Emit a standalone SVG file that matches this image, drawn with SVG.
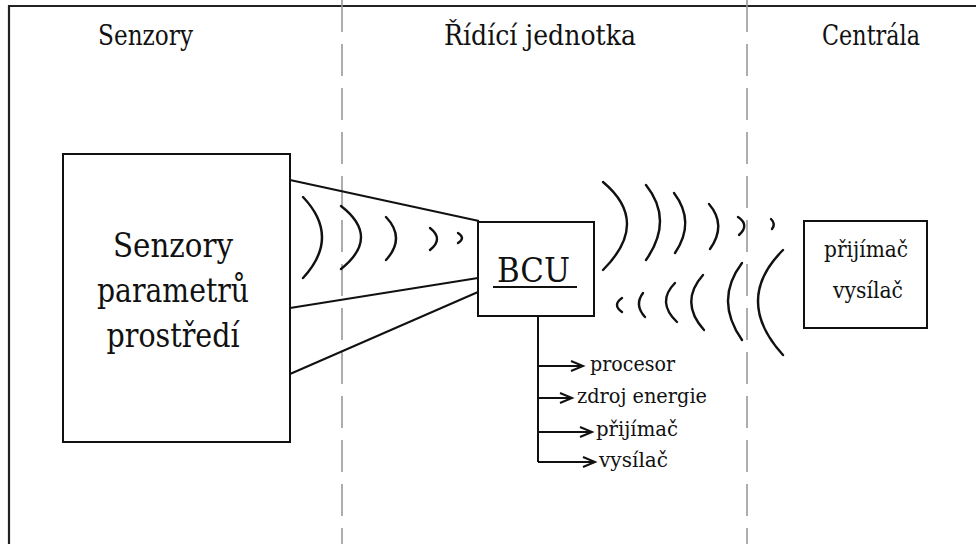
<svg xmlns="http://www.w3.org/2000/svg" width="976" height="544" viewBox="0 0 976 544">
<defs>
<marker id="arr" markerUnits="userSpaceOnUse" markerWidth="14" markerHeight="12" refX="12" refY="5" orient="auto" overflow="visible">
<path d="M0,0 L12,5 L0,10" fill="none" stroke="#111" stroke-width="2"/>
</marker>
<style>
.box{fill:#fff;stroke:#111;stroke-width:2}
.dash{stroke:#999;stroke-width:1.6;stroke-dasharray:32 12;fill:none}
.wave{fill:none;stroke:#111;stroke-width:2.4;stroke-linecap:round}
.ln{fill:none;stroke:#111;stroke-width:2}
.t{font-family:"DejaVu Serif",serif;fill:#111}
.hdr{font-size:27px;text-anchor:middle}
.big{font-size:33px;text-anchor:middle}
.sm{font-size:21px}
.mid{font-size:22px;text-anchor:middle}
</style>
</defs>
<rect width="976" height="544" fill="#fff"/>
<g id="frame">
<path d="M9,544 V6 H976" fill="none" stroke="#222" stroke-width="2.2"/>
<line class="dash" x1="342" y1="0" x2="342" y2="544"/>
<line class="dash" x1="747" y1="0" x2="747" y2="544"/>
</g>
<g id="connectors">
<line class="ln" x1="290" y1="180" x2="479" y2="221"/>
<line class="ln" x1="290" y1="308" x2="478" y2="278"/>
<line class="ln" x1="290" y1="374" x2="478" y2="292"/>
<line class="ln" x1="538" y1="287" x2="538" y2="462"/>
<line class="ln" x1="538" y1="366" x2="583" y2="366" marker-end="url(#arr)"/>
<line class="ln" x1="538" y1="398" x2="572" y2="398" marker-end="url(#arr)"/>
<line class="ln" x1="538" y1="432" x2="592" y2="432" marker-end="url(#arr)"/>
<line class="ln" x1="538" y1="462" x2="595" y2="462" marker-end="url(#arr)"/>
</g>
<g id="waves">
<path class="wave" d="M303,197 Q341,237 303,278"/>
<path class="wave" d="M341,206 Q381,237 341,269"/>
<path class="wave" d="M386,217 Q406,238 386,260"/>
<path class="wave" d="M430,228 Q444,239 430,250"/>
<path class="wave" d="M458,233 Q466,238 458,243"/>
<path class="wave" d="M603,182 Q651,222 603,270"/>
<path class="wave" d="M646,185 Q674,220 646,260"/>
<path class="wave" d="M674,193 Q696,222 675,253"/>
<path class="wave" d="M709,204 Q727,225 710,249"/>
<path class="wave" d="M738,217 Q750,225 739,235"/>
<path class="wave" d="M771,219 Q776,224 772,229"/>
<path class="wave" d="M622,298 Q612,305 622,312"/>
<path class="wave" d="M643,293 Q634,305 645,317"/>
<path class="wave" d="M675,283 Q656,302 677,322"/>
<path class="wave" d="M703,275 Q679,302 704,330"/>
<path class="wave" d="M742,263 Q714,300 742,340"/>
<path class="wave" d="M783,250 Q733,300 783,355"/>
</g>
<g id="headers">
<text class="t hdr" x="145.5" y="45" textLength="95" lengthAdjust="spacingAndGlyphs">Senzory</text>
<text class="t hdr" x="540" y="45" textLength="192" lengthAdjust="spacingAndGlyphs">Řídící jednotka</text>
<text class="t hdr" x="871" y="45" textLength="98" lengthAdjust="spacingAndGlyphs">Centrála</text>
</g>
<g id="sensors">
<rect class="box" x="63" y="154" width="227" height="288"/>
<text class="t big" x="173" y="257" textLength="120" lengthAdjust="spacingAndGlyphs">Senzory</text>
<text class="t big" x="173" y="302" textLength="152" lengthAdjust="spacingAndGlyphs">parametrů</text>
<text class="t big" x="173" y="347" textLength="133" lengthAdjust="spacingAndGlyphs">prostředí</text>
</g>
<g id="bcu">
<rect class="box" x="478" y="222" width="116" height="94"/>
<text class="t big" x="533.5" y="282" textLength="73" lengthAdjust="spacingAndGlyphs">BCU</text>
<line class="ln" x1="493" y1="287" x2="577" y2="287"/>
</g>
<g id="bcu-parts">
<text class="t sm" x="590" y="371" textLength="85" lengthAdjust="spacingAndGlyphs">procesor</text>
<text class="t sm" x="577" y="403" textLength="130" lengthAdjust="spacingAndGlyphs">zdroj energie</text>
<text class="t sm" x="596" y="436" textLength="82" lengthAdjust="spacingAndGlyphs">přijímač</text>
<text class="t sm" x="599" y="467" textLength="69" lengthAdjust="spacingAndGlyphs">vysílač</text>
</g>
<g id="central">
<rect class="box" x="804" y="221" width="123" height="107"/>
<text class="t mid" x="866" y="257" textLength="84" lengthAdjust="spacingAndGlyphs">přijímač</text>
<text class="t mid" x="868" y="298" textLength="70" lengthAdjust="spacingAndGlyphs">vysílač</text>
</g>
</svg>
